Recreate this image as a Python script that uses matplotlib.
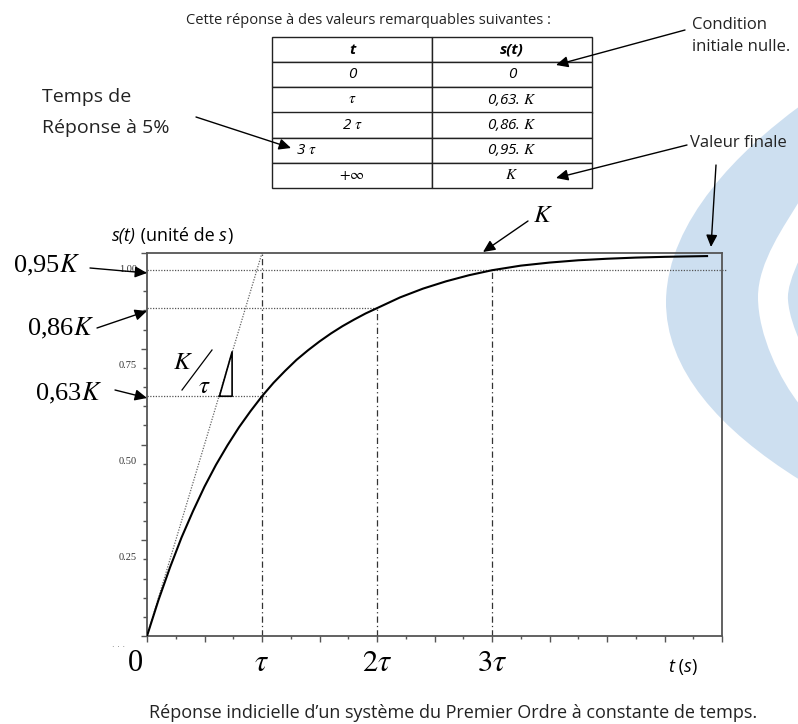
import numpy as np
import matplotlib.pyplot as plt
from matplotlib.path import Path
from matplotlib.patches import PathPatch
from matplotlib.transforms import ScaledTranslation

plt.rcParams['mathtext.fontset'] = 'stix'
SANS = 'Open Sans'
SERIF = 'Liberation Serif'

# reponse (t en multiples de tau, s sur l'axe 0..1)
t_vals = [0, 0.1, 0.2, 0.3, 0.4, 0.5, 0.6, 0.7, 0.8, 0.9, 1.0, 1.1, 1.2, 1.3, 1.4, 1.5, 1.6,
          1.7, 1.8, 1.9, 2.0, 2.2, 2.4, 2.6, 2.8, 3.0, 3.25, 3.5, 3.75, 4.0, 4.25, 4.5, 4.87]
s_vals = [0, 0.094, 0.179, 0.257, 0.326, 0.390, 0.447, 0.498, 0.545, 0.587, 0.626, 0.661,
          0.692, 0.721, 0.746, 0.769, 0.790, 0.809, 0.826, 0.842, 0.856, 0.884, 0.907, 0.926,
          0.942, 0.955, 0.967, 0.975, 0.981, 0.985, 0.988, 0.990, 0.992]
K_final = 1.0

# points remarquables
rem_t = [1, 2, 3]
rem_s = [0.626, 0.856, 0.955]
rem_labels = ['0,63$K$', '0,86$K$', '0,95$K$']

xtick_pos = [0, 1, 2, 3]
xtick_labels = ['0', r'$\tau$', r'$2\tau$', r'$3\tau$']
ytick_pos = [0.25, 0.50, 0.75, 1.00]
ytick_labels = ['0.25', '0.50', '0.75', '1.00']

tab_header = ['t', 's(t)']
tab_t = ['0', r'$\tau$', r'2 $\tau$', r'3 $\tau$', r'$+\infty$']
tab_s = ['0', '0,63. $K$', '0,86. $K$', '0,95. $K$', '$K$']

W, H = 798, 724
fig = plt.figure(figsize=(W / 100, H / 100), dpi=100)

# filigrane bleu en fond
bg = fig.add_axes([0, 0, 1, 1], zorder=0)
bg.set_xlim(0, W); bg.set_ylim(H, 0); bg.axis('off')
M, C, L, Z = Path.MOVETO, Path.CURVE4, Path.LINETO, Path.CLOSEPOLY
band = Path([(800, 106), (740, 150), (668, 220), (666, 300), (665, 370), (720, 430), (800, 480),
             (800, 405), (780, 380), (758, 335), (758, 297), (758, 262), (785, 225), (800, 200),
             (800, 106)],
            [M, C, C, C, C, C, C, L, C, C, C, C, C, C, Z])
sliver = Path([(800, 258), (792, 275), (787, 290), (788, 300), (789, 315), (795, 330), (800, 342),
               (800, 258)], [M, C, C, C, C, C, C, Z])
for p in (band, sliver):
    bg.add_patch(PathPatch(p, facecolor='#cddff0', edgecolor='none'))

# graphe
ax = fig.add_axes([147 / W, (H - 636) / H, 575 / W, 383 / H], zorder=2)
ax.set_facecolor('none')
ax.set_xlim(0, 5)
ax.set_ylim(0, 1.0)
for sp in ax.spines.values():
    sp.set_color('#555555')
    sp.set_linewidth(1.3)

ax.plot(t_vals, s_vals, color='black', lw=1.5, zorder=5)
ax.plot([0, 1.05], [0, 1.05 * K_final], ls=(0, (1, 1.2)), color='#666666', lw=0.9)

h_ends = [1.04, 2.0, 5.04]
for sr, xe in zip(rem_s, h_ends):
    ax.plot([0, xe], [sr, sr], ls=(0, (1, 1.2)), color='#555555', lw=0.9, clip_on=False)
v_tops = [1.0, rem_s[1], rem_s[2]]
for tr, vt in zip(rem_t, v_tops):
    ax.plot([tr, tr], [0, vt], ls=(0, (5, 2.5, 1, 2.5)), color='#333333', lw=0.9)

# triangle de pente K/tau
ax.plot([0.63, 0.74, 0.74, 0.63], [0.626, 0.626, 0.742, 0.626], color='black', lw=1.2)

ax.set_xticks(np.arange(0, 5.01, 0.5))
ax.set_xticks(np.arange(0, 5.01, 0.25), minor=True)
ax.set_yticks(np.arange(0, 1.001, 0.25))
ax.set_yticks(np.arange(0, 1.001, 0.05), minor=True)
ax.set_xticklabels([]); ax.set_yticklabels([])
ax.tick_params(which='major', direction='out', length=4, width=1, color='#555555')
ax.tick_params(which='minor', direction='out', length=2.5, width=1, color='#555555')
ax.tick_params(axis='y', which='major', length=4.5)
ax.tick_params(axis='y', which='minor', length=3)

off_y = ScaledTranslation(-0.10, -0.17, fig.dpi_scale_trans)
for v, lab in zip(ytick_pos, ytick_labels):
    ax.text(0, v, lab, transform=ax.get_yaxis_transform() + off_y, ha='right', va='center',
            fontsize=7.5, fontfamily=SERIF, color='#333333')

for v, lab in zip(xtick_pos, xtick_labels):
    dx = -0.04 if v == 0 else 0
    ax.text(v, 0, lab, transform=ax.get_xaxis_transform() + ScaledTranslation(dx, -0.13, fig.dpi_scale_trans),
            ha='right' if v == 0 else 'center', va='top', fontsize=22, fontfamily=SERIF)

# calque d'annotations en pixels
ov = fig.add_axes([0, 0, 1, 1], zorder=3)
ov.set_xlim(0, W); ov.set_ylim(H, 0); ov.axis('off')
ov.patch.set_alpha(0)

def arrow(tail, tip):
    ov.annotate('', xy=tip, xytext=tail,
                arrowprops=dict(arrowstyle='-|>,head_length=0.6,head_width=0.28', color='black',
                                lw=1, shrinkA=0, shrinkB=0, mutation_scale=12))

ov.text(368, 20, 'Cette réponse à des valeurs remarquables suivantes :', ha='center', va='center',
        fontsize=10.5, fontfamily=SANS, color='#222222')

cells = [[a, b] for a, b in zip(tab_t, tab_s)]
tab = ov.table(cellText=cells, colLabels=tab_header, cellLoc='center',
               bbox=[272 / W, 1 - 188 / H, 320 / W, 151 / H])
tab.auto_set_font_size(False)
for (r, c), cell in tab.get_celld().items():
    cell.set_linewidth(1.0)
    cell.set_edgecolor('#222222')
    cell.set_facecolor('white')
    txt = cell.get_text()
    txt.set_fontsize(11)
    txt.set_fontfamily(SANS)
    txt.set_fontstyle('italic')
    if r == 0:
        txt.set_fontweight('bold')
    if r == 4 and c == 0:
        txt.set_horizontalalignment('left')
        cell.PAD = 0.15

ov.text(692, 25, 'Condition', ha='left', va='center', fontsize=12, fontfamily=SANS, color='#222222')
ov.text(692, 47, 'initiale nulle.', ha='left', va='center', fontsize=12, fontfamily=SANS, color='#222222')
arrow((685, 30), (556, 65))

ov.text(690, 143, 'Valeur finale', ha='left', va='center', fontsize=12, fontfamily=SANS, color='#222222')
arrow((687, 145), (556, 178))
arrow((716, 165), (711, 247))

ov.text(42, 97, 'Temps de', ha='left', va='center', fontsize=14, fontfamily=SANS, color='#222222')
ov.text(42, 128, 'Réponse à 5%', ha='left', va='center', fontsize=14, fontfamily=SANS, color='#222222')
arrow((196, 117), (291, 148))

ov.text(543, 215, '$K$', ha='center', va='center', fontsize=18)
arrow((528, 221), (483, 252))

rem_txt_pos = [(35, 393), (27, 328), (13, 265)]
rem_tails = [(115, 390), (97, 328), (90, 268)]
rem_tips = [(147, 398), (147, 311), (147, 273)]
for lab, pos, tl, tp in zip(rem_labels, rem_txt_pos, rem_tails, rem_tips):
    ov.text(pos[0], pos[1], lab, ha='left', va='center', fontsize=19, fontfamily=SERIF)
    arrow(tl, tp)

# K / tau
ov.text(183, 362, '$K$', ha='center', va='center', fontsize=18)
ov.text(204, 386, r'$\tau$', ha='center', va='center', fontsize=18)
ov.plot([182, 212], [390, 350], color='black', lw=0.9)

# titre d'axe y
t1 = ov.text(112, 236, 's(t)', ha='left', va='center', fontsize=13, fontstyle='italic', fontfamily=SANS)
t2 = ov.annotate(' (unité de ', xy=(1, 0), xycoords=t1, ha='left', va='bottom', fontsize=13, fontfamily=SANS)
t3 = ov.annotate('s', xy=(1, 0), xycoords=t2, ha='left', va='bottom', fontsize=13, fontstyle='italic', fontfamily=SANS)
ov.annotate(')', xy=(1, 0), xycoords=t3, ha='left', va='bottom', fontsize=13, fontfamily=SANS)

# titre d'axe x
u1 = ov.text(668, 667, 't', ha='left', va='center', fontsize=13, fontstyle='italic', fontfamily=SANS)
u2 = ov.annotate(' (', xy=(1, 0), xycoords=u1, ha='left', va='bottom', fontsize=13, fontfamily=SANS)
u3 = ov.annotate('s', xy=(1, 0), xycoords=u2, ha='left', va='bottom', fontsize=13, fontstyle='italic', fontfamily=SANS)
ov.annotate(')', xy=(1, 0), xycoords=u3, ha='left', va='bottom', fontsize=13, fontfamily=SANS)

ov.text(119, 648, '· · ·', ha='center', va='center', fontsize=6, color='#666666')

ov.text(453, 713, 'Réponse indicielle d\u2019un système du Premier Ordre à constante de temps.',
        ha='center', va='center', fontsize=13, fontfamily=SANS, color='#222222')

fig.savefig('out.png', dpi=100)
